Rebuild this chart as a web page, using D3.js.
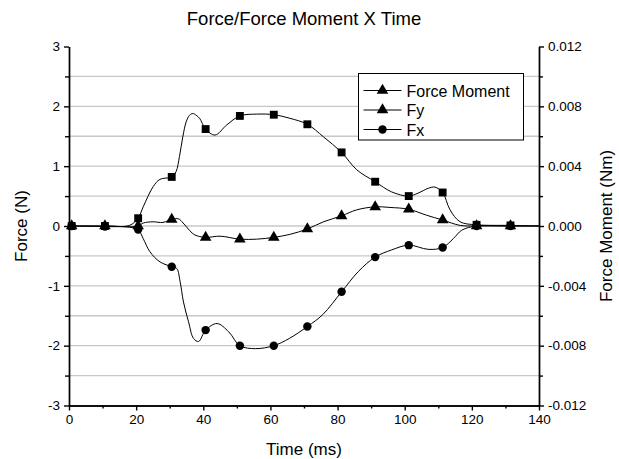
<!DOCTYPE html>
<html>
<head>
<meta charset="utf-8">
<script src="https://cdnjs.cloudflare.com/ajax/libs/d3/7.8.5/d3.min.js"></script>
<style>
  body { margin: 0; background: #fff; }
  svg text { font-family: Arial, "Liberation Sans", sans-serif; }
</style>
</head>
<body>
<div id="canvas"></div>
<script>
"use strict"

/*** DATA ***/
// times (ms) where the markers sit
let markTime = [0.8, 10.7, 20.6, 30.6, 40.7, 50.9, 61.0, 71.0, 81.2, 91.2, 101.2, 111.3, 121.4, 131.5]
let momentMarks = [0, 0, 0.00052, 0.00328, 0.00648, 0.00736, 0.00744, 0.0068, 0.00492, 0.00296, 0.002, 0.00224, 0.00008, 0.00004]  // Nm
let fyMarks = [0, 0, 0, 0.11, -0.19, -0.22, -0.19, -0.05, 0.17, 0.32, 0.28, 0.10, 0, 0]          // N
let fxMarks = [0, -0.01, -0.06, -0.68, -1.74, -2.0, -2.0, -1.68, -1.10, -0.52, -0.32, -0.36, 0, 0] // N

// traced points of the curves between the markers
let momentLineTime = [0.8, 10.7, 18, 20.6, 22.1, 25.1, 27.1, 30.6, 31.9, 32.9, 33.9, 34.9, 35.9, 36.9, 37.9, 38.9, 40.7, 43.5, 47.0, 50.9, 55.9, 61.0, 65.8, 71.0, 75.8, 81.2, 85.7, 91.2, 96.1, 101.2, 104, 107, 109, 111.3, 113.5, 116.5, 121.4, 131.5, 140]
let momentLineVal = [0, 0, 0.00004, 0.00052, 0.00128, 0.00264, 0.00312, 0.00328, 0.00364, 0.00464, 0.00596, 0.00696, 0.0074, 0.00752, 0.0074, 0.0072, 0.00648, 0.00608, 0.00676, 0.00736, 0.00748, 0.00744, 0.0072, 0.0068, 0.00596, 0.00492, 0.00376, 0.00296, 0.00228, 0.002, 0.0022, 0.00252, 0.0026, 0.00224, 0.00108, 0.00028, 0.00008, 0.00004, 0]

let fyLineTime = [0.8, 10.7, 20.6, 22.1, 25, 28, 30.6, 32.6, 34, 36, 37.5, 40.7, 45, 50.9, 55.9, 61.0, 65.8, 71.0, 75.8, 81.2, 85.7, 91.2, 95.6, 101.2, 106.5, 111.3, 116.5, 121.4, 131.5, 140]
let fyLineVal = [0, 0, 0, 0.05, 0.07, 0.06, 0.11, 0.12, 0.05, -0.08, -0.15, -0.19, -0.17, -0.22, -0.22, -0.19, -0.14, -0.05, 0.07, 0.17, 0.27, 0.32, 0.31, 0.28, 0.18, 0.10, 0.01, 0, 0, 0]

let fxLineTime = [0.8, 10.7, 18, 20.6, 22.1, 24.1, 27.1, 30.6, 32.1, 33.1, 34.1, 35.6, 37.1, 38.6, 40.7, 44.1, 47.6, 50.9, 55.6, 61.0, 65.6, 71.0, 75.6, 81.2, 86.2, 91.2, 96.1, 101.2, 107, 111.3, 114.5, 117, 121.4, 131.5, 140]
let fxLineVal = [0, -0.01, -0.02, -0.06, -0.21, -0.43, -0.60, -0.68, -0.71, -0.93, -1.27, -1.60, -1.88, -1.93, -1.74, -1.63, -1.77, -2.0, -2.05, -2.0, -1.88, -1.68, -1.48, -1.10, -0.76, -0.52, -0.40, -0.32, -0.39, -0.36, -0.21, -0.07, 0, 0, 0]

let xTicks = [0, 20, 40, 60, 80, 100, 120, 140]
let xMinor = [10, 30, 50, 70, 90, 110, 130]
let yTicks = [-3, -2, -1, 0, 1, 2, 3]
let yMinor = [-2.5, -1.5, -0.5, 0.5, 1.5, 2.5]
let gridVals = [-2.5, -2, -1.5, -1, -0.5, 0, 0.5, 1, 1.5, 2, 2.5]
let y2Ticks = [-0.012, -0.008, -0.004, 0, 0.004, 0.008, 0.012]
let y2Minor = [-0.01, -0.006, -0.002, 0.002, 0.006, 0.01]

let legendItems = [
    { label: "Force Moment", shape: d3.symbolTriangle },
    { label: "Fy", shape: d3.symbolTriangle },
    { label: "Fx", shape: d3.symbolCircle }
]

/*** CANVAS SETUP ***/
let svgWidth = 619
let svgHeight = 459
let margin = { top: 46.5, right: 80, bottom: 53.5, left: 69 }

let svg = d3.select("#canvas")
    .append("svg")
    .attr("width", svgWidth)
    .attr("height", svgHeight)

let xScale = d3.scaleLinear().domain([0, 140]).range([margin.left, svgWidth - margin.right])
let yScale = d3.scaleLinear().domain([-3, 3]).range([svgHeight - margin.bottom, margin.top])
let y2Scale = d3.scaleLinear().domain([-0.012, 0.012]).range([svgHeight - margin.bottom, margin.top])

// plain hyphen for negative tick labels, like the original
let locale = d3.formatLocale({ decimal: ".", thousands: ",", grouping: [3], currency: ["", ""], minus: "-" })

/* gridlines */
svg.append("g")
    .selectAll("line")
    .data(gridVals)
    .join("line")
    .attr("x1", margin.left)
    .attr("x2", svgWidth - margin.right)
    .attr("y1", d => yScale(d))
    .attr("y2", d => yScale(d))
    .attr("stroke", "#c8c8c8")
    .attr("stroke-width", 1.3)

/* curves */
let curve = d3.curveCatmullRom.alpha(0.5)

function drawLine(times, vals, scale) {
    let pts = times.map((t, i) => [t, vals[i]])
    svg.append("path")
        .datum(pts)
        .attr("fill", "none")
        .attr("stroke", "#000")
        .attr("stroke-width", 1)
        .attr("d", d3.line().curve(curve).x(d => xScale(d[0])).y(d => scale(d[1])))
}
drawLine(fxLineTime, fxLineVal, yScale)
drawLine(fyLineTime, fyLineVal, yScale)
drawLine(momentLineTime, momentLineVal, y2Scale)

/* markers */
function drawMarks(vals, scale, shape, size) {
    svg.append("g")
        .selectAll("path")
        .data(vals)
        .join("path")
        .attr("transform", (d, i) => "translate(" + xScale(markTime[i]) + "," + scale(d) + ")")
        .attr("d", d3.symbol().type(shape).size(size))
        .attr("fill", "#000")
}
drawMarks(fxMarks, yScale, d3.symbolCircle, 56)
drawMarks(fyMarks, yScale, d3.symbolTriangle, 58)
drawMarks(momentMarks, y2Scale, d3.symbolSquare, 62)

/* axes */
function styleAxis(g) {
    g.selectAll("path, line").attr("stroke", "#000").attr("stroke-width", 1.4)
    g.selectAll("text").attr("font-size", "13.5px").attr("fill", "#000")
}
let bottomY = svgHeight - margin.bottom

svg.append("g")
    .attr("transform", "translate(0," + bottomY + ")")
    .call(d3.axisBottom(xScale).tickValues(xMinor).tickSize(3).tickFormat("").tickSizeOuter(0))
    .call(styleAxis)
svg.append("g")
    .attr("transform", "translate(0," + bottomY + ")")
    .call(d3.axisBottom(xScale).tickValues(xTicks).tickSize(5).tickPadding(4).tickSizeOuter(0))
    .call(styleAxis)

svg.append("g")
    .attr("transform", "translate(" + margin.left + ",0)")
    .call(d3.axisLeft(yScale).tickValues(yMinor).tickSize(4).tickFormat("").tickSizeOuter(0))
    .call(styleAxis)
svg.append("g")
    .attr("transform", "translate(" + margin.left + ",0)")
    .call(d3.axisLeft(yScale).tickValues(yTicks).tickSize(5).tickPadding(4).tickFormat(locale.format("d")).tickSizeOuter(0))
    .call(styleAxis)

let rightX = svgWidth - margin.right
svg.append("g")
    .attr("transform", "translate(" + rightX + ",0)")
    .call(d3.axisRight(y2Scale).tickValues(y2Minor).tickSize(4).tickFormat("").tickSizeOuter(0))
    .call(styleAxis)
svg.append("g")
    .attr("transform", "translate(" + rightX + ",0)")
    .call(d3.axisRight(y2Scale).tickValues(y2Ticks).tickSize(5).tickPadding(4).tickFormat(locale.format(".3f")).tickSizeOuter(0))
    .call(styleAxis)

/* titles */
let midX = (margin.left + rightX) / 2
svg.append("text")
    .attr("x", midX)
    .attr("y", 25)
    .attr("text-anchor", "middle")
    .attr("font-size", "18.5px")
    .text("Force/Force Moment X Time")

svg.append("text")
    .attr("x", midX)
    .attr("y", 455)
    .attr("text-anchor", "middle")
    .attr("font-size", "17px")
    .text("Time (ms)")

svg.append("text")
    .attr("transform", "translate(27," + yScale(0) + ") rotate(-90)")
    .attr("text-anchor", "middle")
    .attr("font-size", "17px")
    .text("Force (N)")

svg.append("text")
    .attr("transform", "translate(612," + yScale(0) + ") rotate(-90)")
    .attr("text-anchor", "middle")
    .attr("font-size", "17px")
    .text("Force Moment (Nm)")

/* legend */
let legend = svg.append("g").attr("transform", "translate(358.5,73.5)")
legend.append("rect")
    .attr("width", 165)
    .attr("height", 66.5)
    .attr("fill", "#fff")
    .attr("stroke", "#000")
    .attr("stroke-width", 1)

legendItems.forEach(function (item, i) {
    let ly = 17 + i * 19.5
    legend.append("line")
        .attr("x1", 5).attr("x2", 43)
        .attr("y1", ly).attr("y2", ly)
        .attr("stroke", "#000")
    legend.append("path")
        .attr("transform", "translate(24," + ly + ")")
        .attr("d", d3.symbol().type(item.shape).size(item.shape === d3.symbolCircle ? 56 : 58))
        .attr("fill", "#000")
    legend.append("text")
        .attr("x", 48)
        .attr("y", ly + 6)
        .attr("font-size", "16px")
        .text(item.label)
})
</script>
</body>
</html>
